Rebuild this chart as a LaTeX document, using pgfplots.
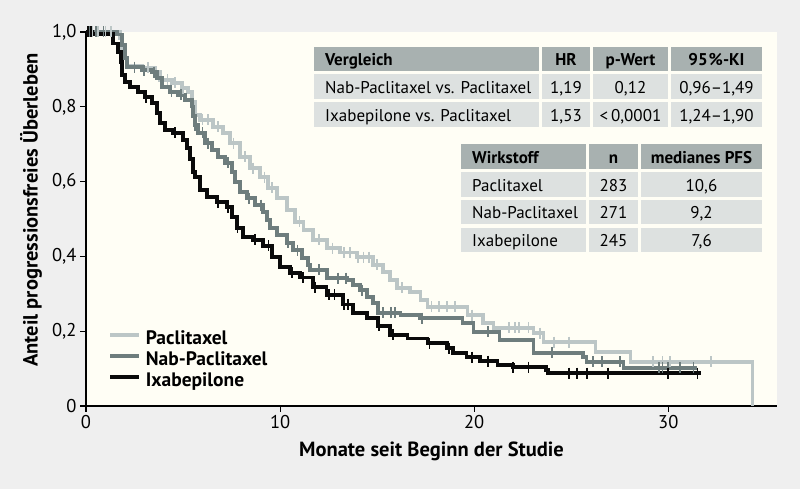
\documentclass[border=0pt]{standalone}
\usepackage{fontspec}
\setmainfont{PT Sans}
\usepackage{pgfplots}
\pgfplotsset{compat=1.18}
\definecolor{outerbg}{HTML}{EFEFEF}
\definecolor{cream}{HTML}{FFFEF5}
\definecolor{hdr}{HTML}{A8B1B0}
\definecolor{cellc}{HTML}{DDE1E0}
\definecolor{pacl}{HTML}{BCC6C6}
\definecolor{nab}{HTML}{6E7D7D}
\definecolor{ixa}{HTML}{0A0A0A}
\newcommand{\fs}[1]{\fontsize{#1}{#1}\selectfont}
\newcommand{\cellbox}[5]{\fill[#5] (#1,#2) rectangle (#3,#4);}
\newcommand{\ltext}[3]{\node[anchor=base west, inner sep=0pt, font=\fs{17}] at (#1,#2) {#3};}
\newcommand{\ctext}[3]{\node[anchor=base, inner sep=0pt, font=\fs{17}] at (#1,#2) {#3};}

\pgfplotstableread{
x y
0 1.0
0.3 0.995
1.39 0.97
1.65 0.947
1.80 0.92
1.86 0.885
2.01 0.866
2.27 0.853
2.68 0.84
3.04 0.826
3.40 0.81
3.66 0.783
3.81 0.757
4.07 0.738
4.48 0.73
5.0 0.711
5.21 0.69
5.36 0.66
5.52 0.626
5.62 0.612
5.88 0.578
6.24 0.559
6.75 0.545
7.27 0.532
7.53 0.505
7.78 0.476
8.09 0.452
8.61 0.444
9.12 0.428
9.59 0.398
10.0 0.372
10.5 0.356
11.03 0.344
11.7 0.318
12.4 0.297
13.25 0.272
13.76 0.249
14.48 0.235
15.05 0.214
15.67 0.19
16.55 0.18
17.58 0.168
18.6 0.155
18.9 0.142
19.6 0.131
20.3 0.12
21.2 0.11
22.0 0.104
23.7 0.096
23.8 0.088
31.7 0.088
}\ixatab

\pgfplotstableread{
x y
0 1.0
1.6 0.993
1.86 0.965
2.01 0.93
2.11 0.906
2.89 0.898
3.40 0.893
3.66 0.877
3.92 0.853
4.33 0.84
4.74 0.832
5.10 0.818
5.46 0.80
5.52 0.775
5.62 0.751
5.77 0.73
6.13 0.703
6.49 0.684
6.80 0.666
7.16 0.65
7.53 0.626
7.68 0.599
7.94 0.572
8.30 0.556
8.71 0.537
9.12 0.519
9.33 0.497
9.48 0.476
9.85 0.457
10.36 0.436
10.67 0.417
11.13 0.396
11.44 0.377
11.55 0.364
12.42 0.342
13.45 0.337
13.76 0.324
14.12 0.31
14.48 0.291
14.79 0.275
15.05 0.249
16.2 0.243
17.2 0.235
19.4 0.222
19.95 0.198
21.3 0.176
23.04 0.142
25.6 0.131
25.8 0.118
27.7 0.102
31.5 0.102
}\nabtab

\pgfplotstableread{
x y
0 1.0
1.75 0.984
1.86 0.957
2.01 0.93
2.11 0.91
2.89 0.905
3.56 0.895
3.81 0.872
4.43 0.864
4.95 0.85
5.26 0.84
5.46 0.813
5.62 0.778
5.88 0.765
6.55 0.746
7.06 0.73
7.42 0.703
7.94 0.666
8.45 0.636
8.97 0.612
9.38 0.583
9.85 0.556
10.36 0.524
10.77 0.492
11.19 0.471
11.70 0.444
12.42 0.422
13.09 0.41
13.97 0.398
14.79 0.377
15.31 0.358
15.67 0.337
16.03 0.316
16.70 0.305
17.22 0.283
17.58 0.265
19.64 0.243
20.46 0.222
20.98 0.209
23.04 0.195
23.56 0.171
26.24 0.144
28.04 0.118
34.33 0.118
34.33 0
}\pacltab

\begin{document}
\begin{tikzpicture}
\path[use as bounding box, fill=outerbg] (0,0) rectangle (800pt,489pt);
\begin{axis}[
  at={(86pt,83pt)}, anchor=south west,
  scale only axis, width=691pt, height=374pt,
  xmin=0, xmax=35.6, ymin=0, ymax=1,
  axis background/.style={fill=cream},
  axis x line*=bottom, axis y line*=left,
  axis line style={line width=1.6pt, -},
  xtick={0,10,20,30}, xticklabels={0,10,20,30},
  ytick={0,0.2,0.4,0.6,0.8,1}, yticklabels={0,{0,2},{0,4},{0,6},{0,8},{1,0}},
  tick align=outside, major tick length=6pt,
  tick style={black, line width=1.2pt},
  ticklabel style={font=\fs{18.5}},
  /pgf/number format/assume math mode=true,
  xlabel={Monate seit Beginn der Studie},
  xlabel style={font=\bfseries\fs{20.5}, at={(axis description cs:0.5,-0.12)}, anchor=center},
  ylabel={Anteil progressionsfreies Überleben},
  ylabel style={font=\bfseries\fs{20.5}, at={(axis description cs:-0.0796,0.524)}, anchor=center},
  clip=false,
  legend cell align=left,
  legend image code/.code={\draw[#1, line width=4pt] (0pt,5pt) -- (29pt,5pt); \path (34pt,5pt);},
  legend style={at={(axis description cs:0.0318,0.1985)}, anchor=north west,
    draw=none, fill=none, inner sep=0pt, row sep=5.5pt,
    font=\bfseries\fs{19.5},
    nodes={inner sep=0pt, text height=12.5pt, text depth=3pt}},
]
\addplot[const plot, pacl, line width=3.4pt] table {\pacltab};
\addlegendentry{Paclitaxel}
\addplot[const plot, nab, line width=3.4pt] table {\nabtab};
\addlegendentry{Nab-Paclitaxel}
\addplot[const plot, ixa, line width=3.4pt] table {\ixatab};
\addlegendentry{Ixabepilone}

\addplot[forget plot, only marks, mark=|, mark size=5.5pt, pacl, mark options={line width=1.8pt}] coordinates {
(0.3,1)(0.6,1)(1.0,1)(1.3,1)(3.2,0.905)(4.2,0.872)(4.6,0.864)(5.0,0.85)(6.0,0.765)(6.3,0.765)(6.8,0.746)(7.6,0.703)(8.2,0.666)(8.6,0.636)(9.2,0.612)(9.6,0.583)(11.0,0.492)(12.0,0.444)(12.7,0.422)(13.3,0.41)(13.6,0.41)(14.0,0.398)(14.3,0.398)(14.6,0.398)(15.0,0.377)(16.3,0.316)(17.8,0.265)(18.2,0.265)(18.6,0.265)(19.0,0.265)(19.9,0.243)(21.8,0.209)(22.1,0.209)(22.3,0.209)(22.8,0.209)(23.4,0.195)(24.1,0.171)(24.9,0.171)(29.2,0.118)(29.7,0.118)(30.1,0.118)(32.2,0.118)
};
\addplot[forget plot, only marks, mark=|, mark size=5.5pt, nab, mark options={line width=1.8pt}] coordinates {
(0.2,1)(0.5,1)(0.9,1)(2.5,0.906)(3.0,0.898)(3.5,0.893)(4.4,0.84)(4.9,0.832)(5.6,0.751)(6.0,0.73)(6.3,0.703)(7.3,0.65)(7.6,0.626)(8.4,0.556)(9.0,0.537)(10.4,0.436)(10.9,0.417)(11.5,0.377)(12.0,0.364)(13.0,0.342)(13.4,0.342)(14.2,0.31)(15.3,0.249)(15.7,0.249)(15.9,0.249)(17.3,0.235)(20.7,0.198)(24.0,0.142)(26.1,0.118)(26.6,0.118)(27.5,0.118)(29.5,0.102)(29.7,0.102)(30.0,0.102)(30.6,0.102)(31.3,0.102)
};
\addplot[forget plot, only marks, mark=|, mark size=5.5pt, ixa, mark options={line width=1.8pt}] coordinates {
(0.1,1)(0.25,1)(3.1,0.826)(4.6,0.73)(6.8,0.545)(7.3,0.532)(7.8,0.476)(8.7,0.444)(9.4,0.428)(10.6,0.356)(11.2,0.344)(11.8,0.318)(12.5,0.297)(12.8,0.297)(13.3,0.272)(13.5,0.272)(15.1,0.214)(15.8,0.19)(17.7,0.168)(18.7,0.155)(19.9,0.131)(20.7,0.12)(22.0,0.104)(22.8,0.104)(24.9,0.088)(25.3,0.088)(25.8,0.088)(26.9,0.088)(30.0,0.088)(31.5,0.088)
};
\end{axis}
\begin{scope}[x=1pt, y=-1pt, shift={(0pt,489pt)}]
% table 1
\cellbox{314}{47}{539}{71}{hdr}
\cellbox{542}{47}{590}{71}{hdr}
\cellbox{593}{47}{668}{71}{hdr}
\cellbox{671}{47}{762}{71}{hdr}
\cellbox{314}{74}{539}{99}{cellc}
\cellbox{542}{74}{590}{99}{cellc}
\cellbox{593}{74}{668}{99}{cellc}
\cellbox{671}{74}{762}{99}{cellc}
\cellbox{314}{102}{539}{127}{cellc}
\cellbox{542}{102}{590}{127}{cellc}
\cellbox{593}{102}{668}{127}{cellc}
\cellbox{671}{102}{762}{127}{cellc}
\ltext{325}{66}{\bfseries Vergleich}
\ctext{566}{66}{\bfseries HR}
\ctext{630.5}{66}{\bfseries p-Wert}
\ctext{716.5}{66}{\bfseries 95\kern1pt\%-KI}
\ltext{325}{93.5}{Nab-Paclitaxel vs. Paclitaxel}
\ctext{566}{93.5}{1,19}
\ctext{630.5}{93.5}{0,12}
\ctext{716.5}{93.5}{0,96–1,49}
\ltext{325}{121.5}{Ixabepilone vs. Paclitaxel}
\ctext{566}{121.5}{1,53}
\ctext{630.5}{121.5}{<\,0,0001}
\ctext{716.5}{121.5}{1,24–1,90}
% table 2
\cellbox{461}{144}{586}{169}{hdr}
\cellbox{589}{144}{638}{169}{hdr}
\cellbox{641}{144}{762}{169}{hdr}
\cellbox{461}{172}{586}{197}{cellc}
\cellbox{589}{172}{638}{197}{cellc}
\cellbox{641}{172}{762}{197}{cellc}
\cellbox{461}{200}{586}{224}{cellc}
\cellbox{589}{200}{638}{224}{cellc}
\cellbox{641}{200}{762}{224}{cellc}
\cellbox{461}{228}{586}{252}{cellc}
\cellbox{589}{228}{638}{252}{cellc}
\cellbox{641}{228}{762}{252}{cellc}
\ltext{472}{163.5}{\bfseries Wirkstoff}
\ctext{613.5}{163.5}{\bfseries n}
\ctext{701.5}{163.5}{\bfseries medianes PFS}
\ltext{472}{191.5}{Paclitaxel}
\ctext{613.5}{191.5}{283}
\ctext{701.5}{191.5}{10,6}
\ltext{472}{219}{Nab-Paclitaxel}
\ctext{613.5}{219}{271}
\ctext{701.5}{219}{9,2}
\ltext{472}{247}{Ixabepilone}
\ctext{613.5}{247}{245}
\ctext{701.5}{247}{7,6}
\end{scope}
\end{tikzpicture}
\end{document}
